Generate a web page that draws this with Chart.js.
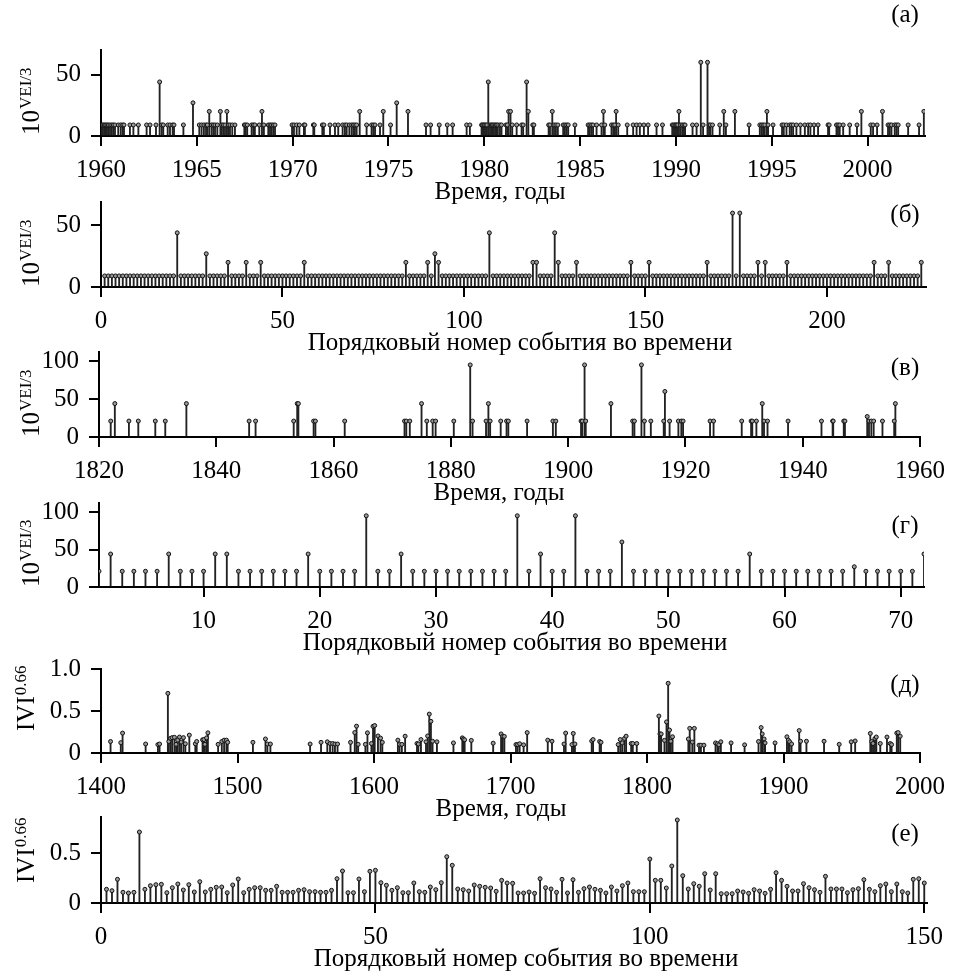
<!DOCTYPE html>
<html>
<head>
<meta charset="utf-8">
<script src="https://cdn.jsdelivr.net/npm/chart.js@4.4.0/dist/chart.umd.min.js"></script>
<style>
  body { margin: 0; background: #fff; }
  #wrap { position: relative; width: 954px; height: 976px; }
  canvas { position: absolute; left: 0; top: 0; }
</style>
</head>
<body>
<div id="wrap">
  <canvas id="c0" width="954" height="976"></canvas>
  <canvas id="c1" width="954" height="976"></canvas>
  <canvas id="c2" width="954" height="976"></canvas>
  <canvas id="c3" width="954" height="976"></canvas>
  <canvas id="c4" width="954" height="976"></canvas>
  <canvas id="c5" width="954" height="976"></canvas>
</div>
<script>
// 1960-2003 events: time (years) and 10^(VEI/3)
var timesA = [
  1960.03, 1960.10, 1960.17, 1960.24, 1960.31, 1960.38, 1960.47, 1960.56, 1960.64, 1960.73,
  1960.90, 1961.03, 1961.13, 1961.20, 1961.51, 1961.69, 1961.95, 1962.38, 1962.56, 1962.87,
  1963.06, 1963.17, 1963.25, 1963.48, 1963.60, 1963.74, 1963.81, 1964.30, 1964.80, 1965.13,
  1965.25, 1965.37, 1965.48, 1965.55, 1965.65, 1965.77, 1965.86, 1965.95, 1966.07, 1966.23,
  1966.30, 1966.38, 1966.47, 1966.57, 1966.64, 1966.73, 1966.85, 1966.99, 1967.48, 1967.55,
  1967.63, 1967.86, 1967.95, 1968.03, 1968.26, 1968.40, 1968.50, 1968.73, 1968.82, 1968.90,
  1968.99, 1969.08, 1969.97, 1970.07, 1970.21, 1970.35, 1970.59, 1970.64, 1971.08, 1971.13,
  1971.55, 1971.63, 1971.95, 1972.21, 1972.38, 1972.61, 1972.73, 1972.82, 1972.96, 1973.08,
  1973.17, 1973.25, 1973.34, 1973.50, 1973.86, 1974.12, 1974.21, 1974.30, 1974.56, 1974.73,
  1975.11, 1975.43, 1976.02, 1976.96, 1977.20, 1977.65, 1978.07, 1978.35, 1979.08, 1979.25,
  1979.86, 1979.91, 1979.98, 1980.02, 1980.09, 1980.14, 1980.21, 1980.30, 1980.37, 1980.43,
  1980.50, 1980.57, 1980.64, 1980.71, 1980.82, 1980.90, 1981.13, 1981.20, 1981.27, 1981.37,
  1981.46, 1981.69, 1981.95, 1982.03, 1982.21, 1982.30, 1982.53, 1982.59, 1983.36, 1983.43,
  1983.55, 1983.64, 1983.74, 1983.84, 1984.12, 1984.21, 1984.30, 1984.38, 1984.73, 1985.42,
  1985.51, 1985.60, 1985.68, 1985.86, 1986.12, 1986.22, 1986.29, 1986.64, 1986.73, 1986.81,
  1986.88, 1986.99, 1987.46, 1987.77, 1987.95, 1988.12, 1988.33, 1988.55, 1988.99, 1989.30,
  1989.81, 1989.88, 1989.95, 1990.00, 1990.05, 1990.10, 1990.16, 1990.24, 1990.33, 1990.42,
  1990.48, 1990.87, 1991.08, 1991.30, 1991.42, 1991.65, 1991.73, 1991.80, 1991.91, 1992.29,
  1992.50, 1992.61, 1993.08, 1993.82, 1994.38, 1994.47, 1994.55, 1994.64, 1994.75, 1994.81,
  1995.07, 1995.54, 1995.63, 1995.77, 1995.94, 1996.03, 1996.12, 1996.29, 1996.50, 1996.73,
  1996.90, 1997.02, 1997.21, 1997.42, 1997.94, 1998.00, 1998.38, 1998.46, 1998.55, 1998.73,
  1999.07, 1999.45, 1999.68, 2000.17, 2000.29, 2000.50, 2000.78, 2001.07, 2001.16, 2001.25,
  2001.42, 2001.51, 2001.60, 2002.12, 2002.69, 2002.94
];
var veiA = [
  9, 9, 9, 9, 9, 9, 9, 9, 9, 9,
  9, 9, 9, 9, 9, 9, 9, 9, 9, 9,
  44, 9, 9, 9, 9, 9, 9, 9, 27, 9,
  9, 9, 9, 9, 20, 9, 9, 9, 9, 20,
  9, 9, 9, 20, 9, 9, 9, 9, 9, 9,
  9, 9, 9, 9, 9, 20, 9, 9, 9, 9,
  9, 9, 9, 9, 9, 9, 9, 9, 9, 9,
  9, 9, 9, 9, 9, 9, 9, 9, 9, 9,
  9, 9, 9, 20, 9, 9, 9, 9, 9, 20,
  9, 27, 20, 9, 9, 9, 9, 9, 9, 9,
  9, 9, 9, 9, 9, 9, 44, 9, 9, 9,
  9, 9, 9, 9, 9, 9, 9, 9, 20, 20,
  9, 9, 9, 9, 44, 20, 9, 9, 9, 9,
  20, 9, 9, 9, 9, 9, 9, 9, 9, 9,
  9, 9, 9, 9, 9, 20, 9, 9, 9, 9,
  20, 9, 9, 9, 9, 9, 9, 9, 9, 9,
  9, 9, 9, 9, 9, 9, 20, 9, 9, 9,
  9, 9, 9, 60, 9, 60, 9, 9, 9, 9,
  20, 9, 20, 9, 9, 9, 9, 9, 20, 9,
  9, 9, 9, 9, 9, 9, 9, 9, 9, 9,
  9, 9, 9, 9, 9, 9, 9, 9, 9, 9,
  9, 9, 20, 9, 9, 9, 20, 9, 9, 9,
  9, 9, 9, 9, 9, 20
];

// 1820-1960 events
var timesB = [
  1822.0, 1822.7, 1825.1, 1826.7, 1829.6, 1831.3, 1834.9, 1845.6, 1846.7, 1853.2,
  1853.8, 1854.0, 1856.6, 1856.9, 1861.9, 1872.1, 1872.4, 1873.0, 1875.0, 1875.9,
  1876.9, 1877.4, 1880.5, 1883.3, 1883.7, 1886.0, 1886.4, 1886.7, 1888.5, 1889.5,
  1889.8, 1893.0, 1897.4, 1897.9, 1902.2, 1902.4, 1902.8, 1903.0, 1907.3, 1911.0,
  1911.3, 1912.5, 1913.0, 1914.1, 1916.3, 1916.5, 1917.3, 1918.8, 1919.3, 1919.6,
  1924.2, 1924.8, 1929.6, 1931.2, 1931.4, 1932.1, 1933.1, 1933.4, 1934.0, 1937.5,
  1943.2, 1945.1, 1945.2, 1947.0, 1947.2, 1951.0, 1951.3, 1951.7, 1952.1, 1953.6,
  1955.6, 1955.8
];
var veiB = [
  21, 44, 21, 21, 21, 21, 44, 21, 21, 21,
  44, 44, 21, 21, 21, 21, 21, 21, 44, 21,
  21, 21, 21, 95, 21, 21, 44, 21, 21, 21,
  21, 21, 21, 21, 21, 21, 95, 21, 44, 21,
  21, 95, 21, 21, 21, 60, 21, 21, 21, 21,
  21, 21, 21, 21, 21, 21, 44, 21, 21, 21,
  21, 21, 21, 21, 21, 27, 21, 21, 21, 21,
  21, 44
];

// 1400-2000 events: time and IVI^0.66
var timesC = [
  1407.0, 1414.5, 1415.8, 1432.7, 1441.7, 1442.9, 1449.0, 1449.7, 1450.9, 1452.1,
  1453.8, 1455.0, 1456.2, 1457.5, 1458.7, 1460.4, 1461.8, 1464.7, 1469.1, 1470.1,
  1474.4, 1475.4, 1476.1, 1477.3, 1478.3, 1485.8, 1488.5, 1490.2, 1491.9, 1492.8,
  1511.3, 1520.5, 1521.9, 1524.1, 1553.2, 1561.2, 1565.8, 1567.8, 1569.7, 1571.4,
  1573.3, 1582.8, 1585.9, 1587.2, 1588.4, 1593.7, 1595.2, 1598.1, 1599.3, 1600.5,
  1602.9, 1604.8, 1606.1, 1617.5, 1618.7, 1620.4, 1622.8, 1631.5, 1632.5, 1634.4,
  1638.1, 1639.3, 1640.5, 1641.7, 1642.9, 1646.1, 1658.2, 1664.7, 1665.5, 1666.4,
  1671.3, 1687.3, 1693.1, 1694.3, 1695.5, 1704.0, 1705.2, 1706.7, 1709.6, 1712.2,
  1727.3, 1730.4, 1739.2, 1740.4, 1745.0, 1746.0, 1747.2, 1759.5, 1760.5, 1765.3,
  1766.3, 1778.9, 1780.4, 1781.8, 1783.5, 1784.7, 1788.4, 1789.6, 1792.5, 1808.7,
  1809.5, 1810.4, 1812.8, 1814.3, 1815.5, 1816.5, 1817.5, 1818.7, 1830.3, 1831.3,
  1833.2, 1834.7, 1838.1, 1839.5, 1841.7, 1850.2, 1851.6, 1852.6, 1854.1, 1861.6,
  1871.5, 1881.7, 1883.6, 1884.4, 1885.8, 1886.5, 1893.8, 1902.5, 1903.5, 1904.5,
  1905.9, 1911.5, 1912.5, 1916.8, 1929.7, 1940.8, 1949.6, 1952.5, 1963.6, 1964.6,
  1965.6, 1967.0, 1968.0, 1970.9, 1975.8, 1978.2, 1979.2, 1983.0, 1984.0, 1985.5
];
var iviC = [
  0.137, 0.123, 0.237, 0.107, 0.100, 0.107, 0.710, 0.137, 0.173, 0.183,
  0.187, 0.103, 0.153, 0.190, 0.130, 0.183, 0.110, 0.213, 0.110, 0.137,
  0.157, 0.160, 0.103, 0.180, 0.240, 0.103, 0.137, 0.153, 0.153, 0.127,
  0.127, 0.167, 0.107, 0.107, 0.107, 0.127, 0.133, 0.113, 0.113, 0.107,
  0.107, 0.127, 0.243, 0.320, 0.103, 0.103, 0.240, 0.113, 0.317, 0.327,
  0.203, 0.177, 0.127, 0.153, 0.103, 0.103, 0.200, 0.113, 0.107, 0.160,
  0.133, 0.203, 0.463, 0.377, 0.140, 0.133, 0.120, 0.180, 0.167, 0.157,
  0.150, 0.117, 0.227, 0.200, 0.197, 0.100, 0.100, 0.110, 0.097, 0.243,
  0.153, 0.140, 0.107, 0.237, 0.100, 0.233, 0.107, 0.143, 0.160, 0.137,
  0.127, 0.100, 0.160, 0.120, 0.173, 0.200, 0.113, 0.113, 0.113, 0.440,
  0.227, 0.227, 0.150, 0.370, 0.830, 0.273, 0.140, 0.193, 0.167, 0.293,
  0.130, 0.293, 0.093, 0.093, 0.093, 0.120, 0.110, 0.097, 0.133, 0.120,
  0.097, 0.137, 0.303, 0.227, 0.167, 0.120, 0.120, 0.193, 0.153, 0.133,
  0.107, 0.267, 0.140, 0.140, 0.140, 0.103, 0.133, 0.143, 0.233, 0.137,
  0.113, 0.173, 0.190, 0.113, 0.190, 0.113, 0.100, 0.237, 0.243, 0.200
];

// tick labels
var ticksA = [1960, 1965, 1970, 1975, 1980, 1985, 1990, 1995, 2000];
var ticksB = [0, 50, 100, 150, 200];
var ticksC = [1820, 1840, 1860, 1880, 1900, 1920, 1940, 1960];
var ticksD = [10, 20, 30, 40, 50, 60, 70];
var ticksE = [1400, 1500, 1600, 1700, 1800, 1900, 2000];
var ticksF = [0, 50, 100, 150];
var yTicksA = [0, 50];
var yTicksB = [0, 50, 100];
var yTicksC = [0, 0.5, 1];
var yTicksD = [0, 0.5];

var FONT = '"Liberation Serif", "Times New Roman", serif';

function byTime(xs, ys) {
  return ys.map(function(v, i) { return {x: xs[i], y: v}; });
}
function byOrder(ys) {
  return ys.map(function(v, i) { return {x: i + 1, y: v}; });
}

var panels = [
  {id: 'c0', top: 50, bottom: 136, left: 101, right: 925, xMin: 1960, xMax: 2003, xTicks: ticksA,
   yMax: 70, yTicks: yTicksA, data: byTime(timesA, veiA), label: '(а)', labelDy: -35,
   xTitle: 'Время, годы', titleX: 500, yMain: '10', ySup: 'VEI/3', yTitleX: 39, yTitleDy: -1},
  {id: 'c1', top: 202, bottom: 287, left: 101, right: 926, xMin: 0, xMax: 227.3, xTicks: ticksB,
   yMax: 69, yTicks: yTicksA, data: byOrder(veiA), label: '(б)', labelDy: 13,
   xTitle: 'Порядковый номер события во времени', titleX: 520, yMain: '10', ySup: 'VEI/3', yTitleX: 39, yTitleDy: 0},
  {id: 'c2', top: 352, bottom: 437, left: 99, right: 923, xMin: 1820, xMax: 1960, xTicks: ticksC,
   yMax: 112, yTicks: yTicksB, data: byTime(timesB, veiB), label: '(в)', labelDy: 16,
   xTitle: 'Время, годы', titleX: 499, yMain: '10', ySup: 'VEI/3', yTitleX: 39, yTitleDy: 0},
  {id: 'c3', top: 503, bottom: 587, left: 99, right: 924, xMin: 1, xMax: 72, xTicks: ticksD,
   yMax: 112, yTicks: yTicksB, data: byOrder(veiB), label: '(г)', labelDy: 23,
   xTitle: 'Порядковый номер события во времени', titleX: 515, yMain: '10', ySup: 'VEI/3', yTitleX: 39, yTitleDy: 0},
  {id: 'c4', top: 669, bottom: 753, left: 101, right: 926, xMin: 1400, xMax: 2000, xTicks: ticksE,
   yMax: 1.0, yTicks: yTicksC, data: byTime(timesC, iviC), label: '(д)', labelDy: 16,
   xTitle: 'Время, годы', titleX: 501, yMain: 'IVI', ySup: '0.66', yTitleX: 34, yTitleDy: -22},
  {id: 'c5', top: 817, bottom: 903, left: 101, right: 927, xMin: 0, xMax: 150.5, xTicks: ticksF,
   yMax: 0.86, yTicks: yTicksD, data: byOrder(iviC), label: '(е)', labelDy: 17,
   xTitle: 'Порядковый номер события во времени', titleX: 526, yMain: 'IVI', ySup: '0.66', yTitleX: 34, yTitleDy: -20}
];

var panelText = {
  id: 'panelText',
  afterDraw: function(chart) {
    var p = chart.options.plugins.panelText;
    var ctx = chart.ctx, a = chart.chartArea;
    ctx.save();
    ctx.fillStyle = '#000';
    ctx.font = '25px ' + FONT;
    ctx.textAlign = 'center';
    ctx.textBaseline = 'middle';
    ctx.fillText(p.label, 905, a.top + p.labelDy);
    ctx.fillText(p.xTitle, p.titleX, a.bottom + 56);

    ctx.translate(p.yTitleX, a.bottom + p.yTitleDy);
    ctx.rotate(-Math.PI / 2);
    ctx.textAlign = 'left';
    ctx.textBaseline = 'alphabetic';
    ctx.font = '25px ' + FONT;
    ctx.fillText(p.yMain, 0, 0);
    var w = ctx.measureText(p.yMain).width;
    ctx.font = '17px ' + FONT;
    ctx.fillText(p.ySup, w + 1, -8);
    ctx.restore();
  }
};

function plain(v) {
  return v === 1 ? '1.0' : String(v);
}

panels.forEach(function(p) {
  var ctx = document.getElementById(p.id).getContext('2d');
  new Chart(ctx, {
    type: 'bar',
    data: {
      datasets: [{
        type: 'scatter',
        data: p.data,
        pointRadius: 2,
        pointBorderWidth: 1,
        pointBorderColor: '#111',
        pointBackgroundColor: '#999'
      }, {
        type: 'bar',
        data: p.data,
        barThickness: 1.2,
        backgroundColor: '#222',
        borderWidth: 0,
        grouped: false
      }]
    },
    options: {
      responsive: false,
      animation: false,
      events: [],
      layout: {padding: {top: p.top, bottom: 976 - p.bottom - 70, left: 0, right: 954 - p.right}},
      plugins: {
        legend: {display: false},
        tooltip: {enabled: false},
        panelText: p
      },
      scales: {
        x: {
          type: 'linear',
          min: p.xMin,
          max: p.xMax,
          offset: false,
          afterFit: function(s) { s.height = 70; },
          afterBuildTicks: function(s) { s.ticks = p.xTicks.map(function(v) { return {value: v}; }); },
          grid: {display: true, drawOnChartArea: false, drawTicks: true, tickLength: 10, color: '#000', lineWidth: 2, offset: false},
          border: {display: true, color: '#000', width: 2},
          ticks: {color: '#000', font: {family: FONT, size: 25}, padding: 9, maxRotation: 0, autoSkip: false, callback: plain}
        },
        y: {
          min: 0,
          max: p.yMax,
          afterFit: function(s) { s.width = p.left; },
          afterBuildTicks: function(s) { s.ticks = p.yTicks.map(function(v) { return {value: v}; }); },
          grid: {display: true, drawOnChartArea: false, drawTicks: true, tickLength: 10, color: '#000', lineWidth: 2},
          border: {display: true, color: '#000', width: 2},
          ticks: {color: '#000', font: {family: FONT, size: 25}, padding: 10, callback: plain}
        }
      }
    },
    plugins: [panelText]
  });
});
</script>
</body>
</html>
